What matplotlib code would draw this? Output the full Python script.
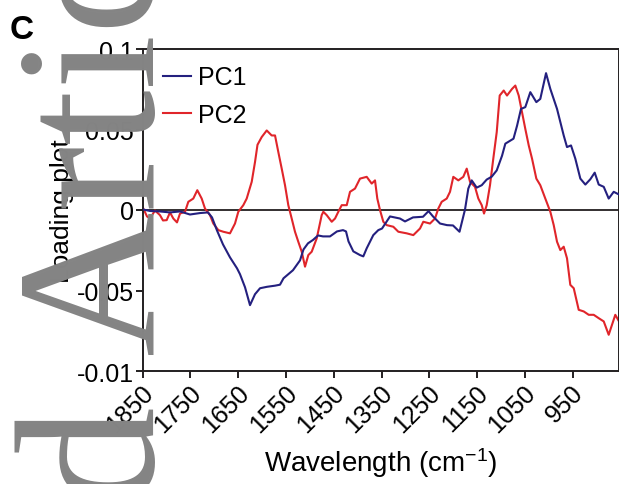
import matplotlib
matplotlib.use("Agg")
import matplotlib.pyplot as plt
from matplotlib.transforms import ScaledTranslation

plt.rcParams['font.family'] = ['Liberation Sans', 'DejaVu Sans']
plt.rcParams['mathtext.fontset'] = 'custom'
plt.rcParams['mathtext.rm'] = 'Liberation Sans'
plt.rcParams['mathtext.it'] = 'Liberation Sans'

# ---- data (wavenumber cm-1, loading) ----
pc1_wn = [1849, 1834.7, 1813.8, 1792.9, 1771.9, 1751.0, 1730.0, 1713.3, 1704.9, 1694.5,
          1681.9, 1667.3, 1652.6, 1646.3, 1635.8, 1625.4, 1614.9, 1604.4, 1589.8, 1573.0,
          1562.6, 1555.2, 1535.4, 1520.7, 1513.4, 1504.0, 1493.5, 1483.0, 1472.6, 1457.9,
          1443.3, 1430.7, 1424.4, 1419.2, 1409.1, 1395.1, 1388.2, 1381.1, 1367.3, 1356.8,
          1349.0, 1332.3, 1311.4, 1300.9, 1284.2, 1263.2, 1251.7, 1242.3, 1227.6, 1213.0,
          1200.4, 1186.8, 1175.3, 1168.4, 1161.3, 1150.8, 1140.3, 1129.9, 1119.4, 1108.9,
          1097.8, 1090.9, 1073.8, 1066.4, 1058.1, 1049.1, 1038.6, 1026.0, 1017.7, 1005.7,
          996.7, 982.7, 968.7, 961.8, 953.4, 944.4, 933.9, 923.4, 913.0, 903.8,
          895.4, 884.9, 874.5, 864.0, 852.9]
pc1_val = [0.0003, -0.0006, -0.0009, -0.0015, -0.0009, -0.0028, -0.0019, -0.0015, -0.0046, -0.0127,
           -0.0214, -0.0294, -0.0362, -0.0399, -0.0480, -0.0591, -0.0523, -0.0486, -0.0477, -0.0470,
           -0.0464, -0.0424, -0.0374, -0.0313, -0.0245, -0.0207, -0.0186, -0.0158, -0.0164, -0.0164,
           -0.0133, -0.0125, -0.0133, -0.0195, -0.0257, -0.0280, -0.0288, -0.0238, -0.0156, -0.0125,
           -0.0115, -0.0040, -0.0053, -0.0071, -0.0046, -0.0042, -0.0007, -0.0040, -0.0084, -0.0094,
           -0.0096, -0.0135, 0.0003, 0.0133, 0.0184, 0.0139, 0.0154, 0.0189, 0.0207, 0.0246,
           0.0337, 0.0412, 0.0443, 0.0523, 0.0628, 0.0639, 0.0732, 0.0670, 0.0690, 0.0850,
           0.0752, 0.0628, 0.0463, 0.0391, 0.0401, 0.0319, 0.0195, 0.0158, 0.0191, 0.0232,
           0.0158, 0.0144, 0.0071, 0.0113, 0.0096]

pc2_wn = [1848.7, 1841.0, 1834.7, 1824.3, 1813.8, 1807.5, 1799.8, 1792.9, 1785.9, 1778.2,
          1771.9, 1761.4, 1754.5, 1744.1, 1735.7, 1726.5, 1719.6, 1709.1, 1702.2, 1691.7,
          1681.3, 1667.3, 1656.8, 1649.9, 1639.4, 1632.3, 1621.8, 1614.9, 1609.7, 1600.9,
          1590.4, 1580.0, 1573.0, 1566.1, 1559.0, 1552.1, 1545.2, 1538.1, 1531.2, 1524.3,
          1517.1, 1510.2, 1503.3, 1496.2, 1485.7, 1475.3, 1471.9, 1464.8, 1454.3, 1447.4,
          1440.5, 1433.4, 1422.9, 1416.0, 1405.6, 1395.1, 1381.1, 1370.6, 1363.7, 1358.9,
          1353.2, 1346.3, 1339.2, 1325.4, 1314.9, 1297.3, 1283.5, 1269.5, 1262.6, 1248.6,
          1238.1, 1231.2, 1224.1, 1213.6, 1206.7, 1199.8, 1189.3, 1178.9, 1171.7, 1164.8,
          1154.4, 1147.4, 1140.3, 1135.5, 1129.9, 1123.0, 1116.1, 1108.9, 1102.7, 1094.3,
          1087.4, 1076.9, 1070.0, 1062.9, 1056.0, 1049.1, 1041.9, 1035.0, 1026.0, 1017.7,
          1007.2, 996.7, 989.6, 982.7, 975.8, 968.7, 961.8, 954.9, 947.7, 937.3,
          926.8, 916.3, 905.9, 895.4, 884.9, 874.5, 867.6, 860.7, 852.9]
pc2_val = [0.0009, -0.0040, -0.0053, -0.0003, -0.0032, -0.0065, -0.0063, -0.0015, -0.0053, -0.0077,
           -0.0022, -0.0011, 0.0051, 0.0071, 0.0123, 0.0071, 0.0009, -0.0032, -0.0084, -0.0125,
           -0.0135, -0.0145, -0.0084, -0.0011, 0.0030, 0.0071, 0.0175, 0.0298, 0.0405, 0.0453,
           0.0494, 0.0463, 0.0463, 0.0360, 0.0257, 0.0154, 0.0030, -0.0053, -0.0135, -0.0197,
           -0.0259, -0.0352, -0.0280, -0.0259, -0.0176, -0.0032, -0.0011, -0.0032, -0.0073, -0.0053,
           -0.0011, 0.0030, 0.0030, 0.0113, 0.0133, 0.0195, 0.0206, 0.0164, 0.0184, 0.0071,
           -0.0001, -0.0073, -0.0094, -0.0104, -0.0135, -0.0145, -0.0156, -0.0115, -0.0073, -0.0084,
           -0.0053, 0.0009, 0.0051, 0.0071, 0.0113, 0.0206, 0.0184, 0.0206, 0.0257, 0.0175,
           0.0144, 0.0071, 0.0030, -0.0022, 0.0030, 0.0154, 0.0319, 0.0484, 0.0711, 0.0742,
           0.0711, 0.0752, 0.0773, 0.0711, 0.0608, 0.0504, 0.0401, 0.0319, 0.0195, 0.0154,
           0.0071, -0.0011, -0.0094, -0.0197, -0.0249, -0.0228, -0.0300, -0.0465, -0.0486, -0.0620,
           -0.0630, -0.0651, -0.0651, -0.0672, -0.0692, -0.0775, -0.0713, -0.0651, -0.0692]

x_ticks = [1850, 1750, 1650, 1550, 1450, 1350, 1250, 1150, 1050, 950]
x_tick_labels = ['1850', '1750', '1650', '1550', '1450', '1350', '1250', '1150', '1050', '950']
y_ticks = [0.1, 0.05, 0, -0.05, -0.1]
y_tick_labels = ['0.1', '0.05', '0', '-0.05', '-0.01']
series_labels = ['PC1', 'PC2']

W, H = 619, 485
fig = plt.figure(figsize=(W / 100, H / 100), dpi=100)
ax = fig.add_axes([142.7 / W, (H - 372) / H, (618.5 - 142.7) / W, (372 - 50) / H])

dark = '#231f20'
c1 = '#24207f'
c2 = '#e0252a'

ax.axhline(0, color=dark, lw=1.3, zorder=1)
ax.plot(pc1_wn, pc1_val, color=c1, lw=1.5, label=series_labels[0], zorder=3)
ax.plot(pc2_wn, pc2_val, color=c2, lw=1.5, label=series_labels[1], zorder=2)

ax.set_xlim(1850, 854)
ax.set_ylim(-0.1, 0.1)
ax.set_xticks(x_ticks)
ax.set_xticklabels(x_tick_labels, rotation=45, ha='right', va='center',
                   rotation_mode='anchor')
ax.set_yticks(y_ticks)
ax.set_yticklabels(y_tick_labels)
for s in ax.spines.values():
    s.set_color(dark)
    s.set_linewidth(1.4)
ax.tick_params(axis='both', direction='out', length=5, width=1.4, color=dark,
               labelsize=18, pad=1.5)
ax.tick_params(axis='x', pad=5)
off = ScaledTranslation(7 / 100, -4 / 100, fig.dpi_scale_trans)
for lab in ax.get_xticklabels():
    lab.set_transform(lab.get_transform() + off)

ax.set_xlabel('Wavelength (cm$^{-1}$)', fontsize=20, labelpad=6)
ax.set_ylabel('Loading plot', fontsize=19, labelpad=2)

leg = ax.legend(loc='upper left', bbox_to_anchor=(0.043, 0.949), frameon=False,
                fontsize=18, handlelength=1.1, handletextpad=0.3, labelspacing=0.55,
                borderpad=0, borderaxespad=0)

fig.text(0.015, 0.97, 'C', fontsize=24, fontweight='bold', ha='left', va='top')

# watermark
grey = '#848484'
fig.text(152 / W, (H - 354) / H, 'Article', rotation=90, rotation_mode='anchor',
         ha='left', va='baseline', fontsize=144, color=grey,
         family='Liberation Serif', zorder=10)
fig.text(152 / W, (H - 404) / H, 'Accepted', rotation=90, rotation_mode='anchor',
         ha='right', va='baseline', fontsize=144, color=grey,
         family='Liberation Serif', zorder=10)

fig.savefig('out.png', dpi=100)
